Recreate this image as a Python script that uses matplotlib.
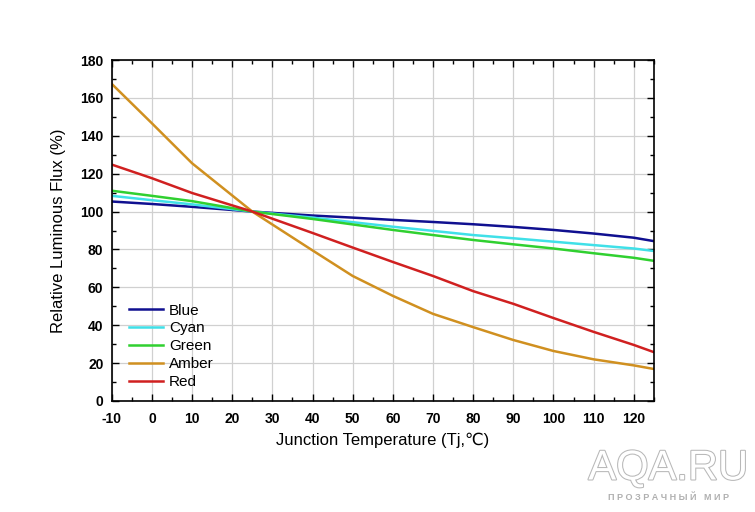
import matplotlib
matplotlib.use("Agg")
import matplotlib.pyplot as plt
import matplotlib.patheffects as pe
from matplotlib.ticker import MultipleLocator

plt.rcParams['font.family'] = ['Liberation Sans', 'DejaVu Sans']
plt.rcParams['axes.unicode_minus'] = False

temps = [-10, 0, 10, 25, 40, 50, 60, 70, 80, 90, 100, 110, 120, 125]
blue  = [105.3, 104.0, 102.5, 100, 97.9, 96.8, 95.6, 94.5, 93.3, 91.9, 90.3, 88.4, 86.2, 84.4]
cyan  = [108.3, 106.0, 103.8, 100, 96.8, 94.4, 92.0, 89.8, 87.6, 85.9, 84.1, 82.3, 80.5, 79.2]
green = [111.0, 108.3, 105.5, 100, 96.1, 93.2, 90.3, 87.6, 85.0, 82.7, 80.5, 78.0, 75.6, 74.0]
amber = [167.4, 146.6, 125.5, 100, 79.5, 66.0, 55.5, 46.0, 39.0, 32.2, 26.4, 22.0, 18.8, 16.9]
red   = [124.8, 117.6, 109.8, 100, 88.7, 81.0, 73.4, 66.0, 58.0, 51.3, 43.8, 36.5, 29.6, 25.8]

series = [("Blue", blue, "#101090"), ("Cyan", cyan, "#40e0e8"),
          ("Green", green, "#30d030"), ("Amber", amber, "#d09020"),
          ("Red", red, "#d02020")]

fig = plt.figure(figsize=(7.55, 5.12), dpi=100)
ax = fig.add_axes([0.148, 0.2168, 0.718, 0.666])

for name, vals, col in series:
    ax.plot(temps, vals, color=col, lw=1.8, label=name)

ax.set_xlim(-10, 125)
ax.set_ylim(0, 180)
ax.xaxis.set_major_locator(MultipleLocator(10))
ax.xaxis.set_minor_locator(MultipleLocator(5))
ax.yaxis.set_major_locator(MultipleLocator(20))
ax.yaxis.set_minor_locator(MultipleLocator(10))
ax.grid(True, which='major', color='#d0d0d0', lw=0.9)
ax.set_axisbelow(True)
ax.tick_params(which='both', direction='in', top=True, right=True, width=1.0)
ax.tick_params(which='major', length=5, labelsize=10)
ax.tick_params(axis='x', which='major', pad=8)
ax.tick_params(axis='y', which='major', pad=6)
ax.tick_params(which='minor', length=3)
for lbl in ax.get_xticklabels() + ax.get_yticklabels():
    lbl.set_fontweight('bold')
for s in ax.spines.values():
    s.set_linewidth(1.2)

ax.set_xlabel("Junction Temperature (Tj,℃)", fontsize=12, labelpad=5)
ax.set_ylabel("Relative Luminous Flux (%)", fontsize=12, labelpad=10)

leg = ax.legend(loc='lower left', bbox_to_anchor=(0.007, -0.005), frameon=False,
                fontsize=11, handlelength=2.2, labelspacing=0.25, handletextpad=0.4)

fig.text(0.885, 0.085, "AQA.RU", fontsize=30, color='white', ha='center', va='center',
         path_effects=[pe.withStroke(linewidth=1.5, foreground='#b8b8b8')])
fig.text(0.885, 0.028, "П Р О З Р А Ч Н Ы Й   М И Р", fontsize=6.5, color='#b0b0b0',
         ha='center', va='center', fontweight='bold')

fig.savefig("out.png", dpi=100)
